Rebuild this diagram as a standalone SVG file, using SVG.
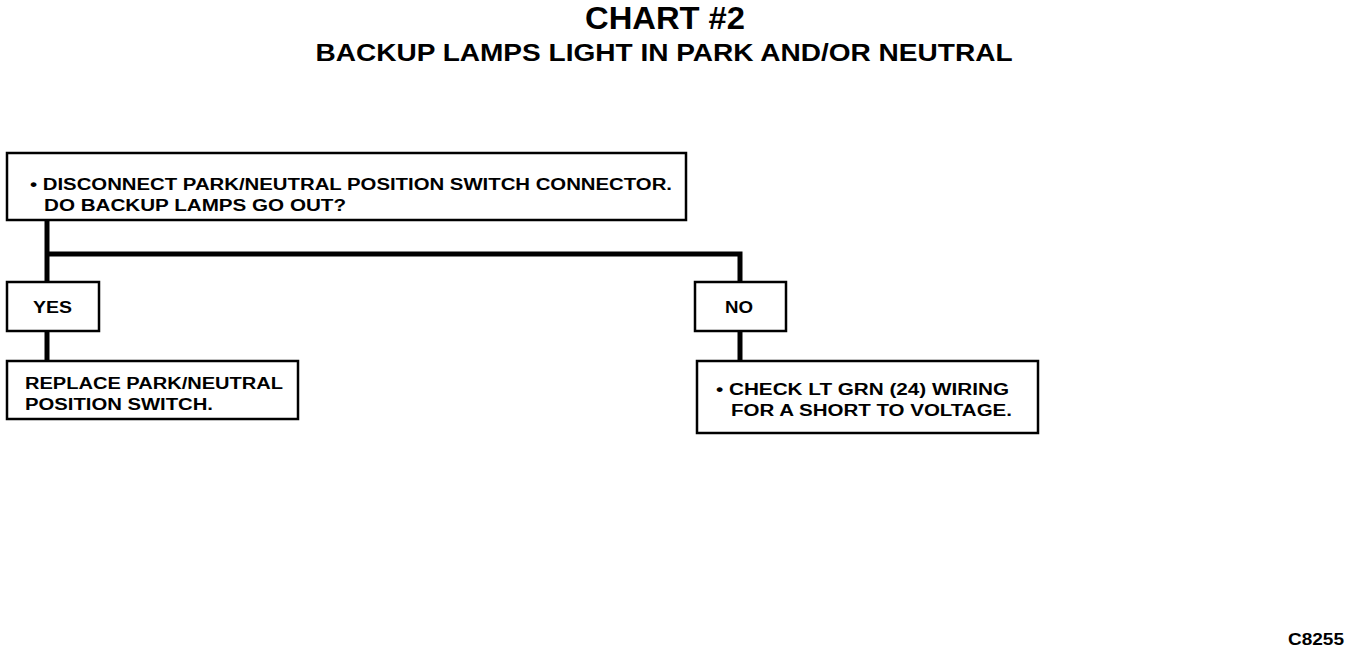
<svg xmlns="http://www.w3.org/2000/svg" width="1360" height="654" viewBox="0 0 1360 654">
<style>
.box{fill:#fff;stroke:#000;stroke-width:2.5}
.t{font-family:"Liberation Sans",Arial,sans-serif;font-weight:bold;fill:#000;font-size:16px}
.c{fill:none;stroke:#000;stroke-width:5}
</style>
<rect width="1360" height="654" fill="#fff"/>
<g id="title">
<text class="t" x="665" y="29" text-anchor="middle" style="font-size:31px" textLength="160" lengthAdjust="spacingAndGlyphs">CHART #2</text>
<text class="t" x="664" y="61" text-anchor="middle" style="font-size:23px" textLength="697" lengthAdjust="spacingAndGlyphs">BACKUP LAMPS LIGHT IN PARK AND/OR NEUTRAL</text>
</g>
<g id="connectors">
<polyline class="c" points="47,220 47,282"/>
<polyline class="c" points="47,254 740,254 740,282"/>
<polyline class="c" points="47,331 47,361"/>
<polyline class="c" points="740,331 740,361"/>
</g>
<g id="start">
<rect class="box" x="7" y="153" width="679" height="67"/>
<text class="t" x="30" y="190" textLength="642" lengthAdjust="spacingAndGlyphs">• DISCONNECT PARK/NEUTRAL POSITION SWITCH CONNECTOR.</text>
<text class="t" x="44" y="211" textLength="302" lengthAdjust="spacingAndGlyphs">DO BACKUP LAMPS GO OUT?</text>
</g>
<g id="yes">
<rect class="box" x="7" y="282" width="92" height="49"/>
<text class="t" x="33" y="313" textLength="39" lengthAdjust="spacingAndGlyphs">YES</text>
</g>
<g id="no">
<rect class="box" x="695" y="282" width="91" height="49"/>
<text class="t" x="725" y="313" textLength="28" lengthAdjust="spacingAndGlyphs">NO</text>
</g>
<g id="replace">
<rect class="box" x="7" y="361" width="291" height="58"/>
<text class="t" x="25" y="389" textLength="258" lengthAdjust="spacingAndGlyphs">REPLACE PARK/NEUTRAL</text>
<text class="t" x="25" y="410" textLength="188" lengthAdjust="spacingAndGlyphs">POSITION SWITCH.</text>
</g>
<g id="check">
<rect class="box" x="697" y="361" width="341" height="72"/>
<text class="t" x="716" y="395" textLength="293" lengthAdjust="spacingAndGlyphs">• CHECK LT GRN (24) WIRING</text>
<text class="t" x="731" y="416" textLength="281" lengthAdjust="spacingAndGlyphs">FOR A SHORT TO VOLTAGE.</text>
</g>
<text class="t" x="1288" y="645" textLength="56" lengthAdjust="spacingAndGlyphs">C8255</text>
</svg>
